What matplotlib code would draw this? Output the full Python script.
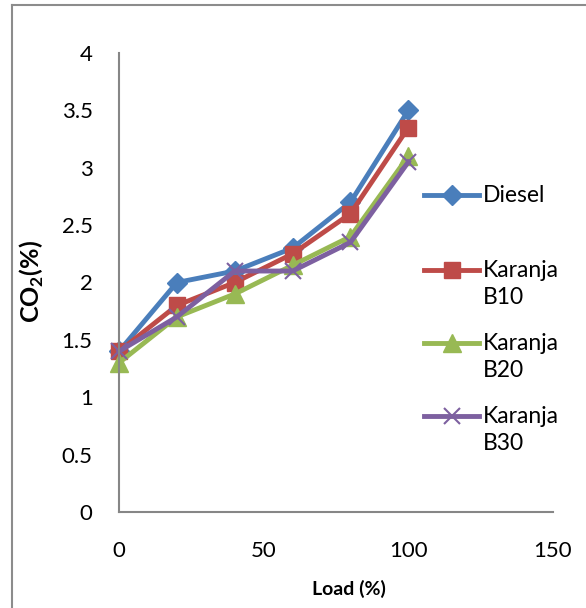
import numpy as np
import matplotlib
matplotlib.use("Agg")
import matplotlib.pyplot as plt
from matplotlib.lines import Line2D
from matplotlib.ticker import FuncFormatter

# Chart data
load = [0, 20, 40, 60, 80, 100]
diesel = [1.4, 2.0, 2.1, 2.3, 2.7, 3.5]
karanja_b10 = [1.4, 1.8, 2.0, 2.25, 2.6, 3.35]
karanja_b20 = [1.3, 1.7, 1.9, 2.15, 2.4, 3.1]
karanja_b30 = [1.4, 1.7, 2.1, 2.1, 2.35, 3.05]
series_labels = ["Diesel", "Karanja\nB10", "Karanja\nB20", "Karanja\nB30"]
x_ticks = [0, 50, 100, 150]
y_ticks = [0, 0.5, 1, 1.5, 2, 2.5, 3, 3.5, 4]

FONT = "Lato"
W, H = 586, 608
plt.rcParams["font.family"] = FONT
plt.rcParams["mathtext.fontset"] = "custom"
plt.rcParams["mathtext.bf"] = FONT + ":bold"
plt.rcParams["mathtext.rm"] = FONT


def px(x, y):
    # pixel position (from top-left) -> figure fraction
    return x / W, 1 - y / H


fig = plt.figure(figsize=(W / 100, H / 100), dpi=100)
ax = fig.add_axes([119 / W, 1 - 512 / H, (553 - 119) / W, (512 - 53) / H])

styles = [
    dict(color="#4A7EBB", marker="D", markersize=10),
    dict(color="#BE4B48", marker="s", markersize=12),
    dict(color="#98B954", marker="^", markersize=13),
    dict(color="#7D60A0", marker="x", markersize=12, markeredgewidth=1.5),
]
all_series = [diesel, karanja_b10, karanja_b20, karanja_b30]

for values, st in zip(all_series, styles):
    ax.plot(load, values, linewidth=3.5, clip_on=False, **st)

ax.set_xlim(0, 150)
ax.set_ylim(0, 4)
ax.set_xticks(x_ticks)
ax.set_yticks(y_ticks)
ax.yaxis.set_major_formatter(FuncFormatter(lambda v, p: f"{v:g}"))
ax.tick_params(length=0, labelsize=16, colors="black")
ax.tick_params(axis="y", pad=19)
ax.tick_params(axis="x", pad=21)
for side in ["top", "right"]:
    ax.spines[side].set_visible(False)
for side in ["left", "bottom"]:
    ax.spines[side].set_color("#868686")
    ax.spines[side].set_linewidth(1.5)

ax.set_xlabel("Load (%)", fontsize=14, fontweight="bold")
ax.xaxis.set_label_coords((349 - 119) / (553 - 119), -(580 - 512) / (512 - 53))
ax.set_ylabel(r"CO$_{\mathbf{2}}$(%)", fontsize=18, fontweight="bold")
ax.yaxis.set_label_coords(-(119 - 46) / (553 - 119), (512 - 281) / (512 - 53))

# legend drawn by hand so the handle sits on the first text line
row_y = [195, 270, 343, 416]
line_step = 27
for label, st, y in zip(series_labels, styles, row_y):
    x0, yy = px(424, y)
    x1, _ = px(479, y)
    xm, _ = px(451.5, y)
    fig.add_artist(Line2D([x0, x1], [yy, yy], color=st["color"], linewidth=3.5))
    fig.add_artist(Line2D([xm], [yy], linestyle="none", **st))
    for i, part in enumerate(label.split("\n")):
        tx, ty = px(483, y + 7 + i * line_step)
        fig.text(tx, ty, part, fontsize=16.5, va="baseline", ha="left")

# outer chart frame (only left and top edges are inside the picture)
fig.add_artist(Line2D([12 / W, 12 / W], [-0.1, 1 - 5 / H], color="#8c8c8c",
                      linewidth=1.5))
fig.add_artist(Line2D([12 / W, 1.1], [1 - 5 / H, 1 - 5 / H], color="#8c8c8c",
                      linewidth=1.5))

fig.savefig("out.png", dpi=100)
